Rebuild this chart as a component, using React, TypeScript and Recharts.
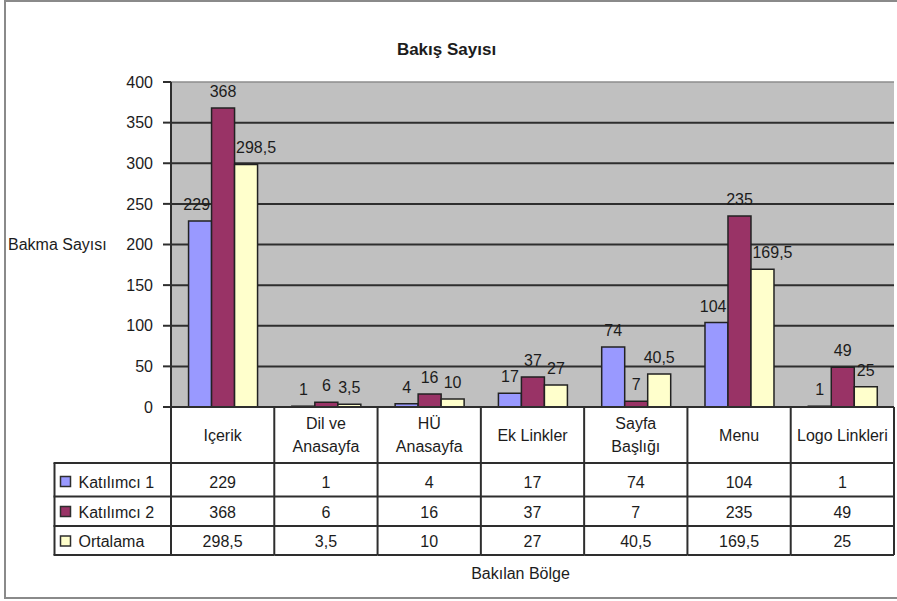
import React from 'react';
import { BarChart, Bar, XAxis, YAxis, CartesianGrid, LabelList, ReferenceLine } from 'recharts';

const categories = ['Içerik', 'Dil ve\nAnasayfa', 'HÜ\nAnasayfa', 'Ek Linkler', 'Sayfa\nBaşlığı', 'Menu', 'Logo Linkleri'];
const katilimci1 = [229, 1, 4, 17, 74, 104, 1];
const katilimci2 = [368, 6, 16, 37, 7, 235, 49];
const ortalama = [298.5, 3.5, 10, 27, 40.5, 169.5, 25];
const yTicks = [0, 50, 100, 150, 200, 250, 300, 350, 400];
const gridValues = [50, 100, 150, 200, 250, 300, 350];
const seriesNames = ['Katılımcı 1', 'Katılımcı 2', 'Ortalama'];
const seriesKeys = ['k1', 'k2', 'ort'];
const seriesColors = ['#9999ff', '#993366', '#ffffcc'];
const seriesValues = [katilimci1, katilimci2, ortalama];

const data = categories.map((c, i) => ({
  name: c,
  k1: katilimci1[i],
  k2: katilimci2[i],
  ort: ortalama[i],
}));

const FONT = '"Liberation Sans", Arial, Helvetica, sans-serif';
const TEXT = '#1c1c1c';
const LINE = '#2e2e2e';
const ROW_LINES = [56, 89.5, 119, 148];
const ROW_BASE = [80.5, 110.5, 140];
const LEGEND_W = 116.5;
const LABEL_OFFSET = 11;

const fmt = (v: number | string) => String(v).replace('.', ',');

function TableTick(props: any) {
  const { x, y, payload } = props;
  const index: number = props.index ?? payload?.index ?? 0;
  const count = props.visibleTicksCount || categories.length;
  const axisW = typeof props.width === 'number' && props.width > 100 ? props.width : 724;
  const half = axisW / count / 2;
  const left = x - half;
  const right = x + half;
  const bottom = y + ROW_LINES[3];
  const lines = String(payload.value).split('\n');
  const textProps = { fontFamily: FONT, fontSize: 16, fill: TEXT, textAnchor: 'middle' as const };
  const lgLeft = left - LEGEND_W;
  return (
    <g>
      {index === 0 && (
        <g>
          <line x1={lgLeft} x2={lgLeft} y1={y + ROW_LINES[0]} y2={bottom} stroke={LINE} strokeWidth={2} />
          <line x1={left} x2={left} y1={y} y2={bottom} stroke={LINE} strokeWidth={2} />
          {ROW_LINES.map((r, i) => (
            <line key={'lg' + i} x1={lgLeft - 1} x2={left} y1={y + r} y2={y + r} stroke={LINE} strokeWidth={2} />
          ))}
          {seriesNames.map((n, i) => (
            <g key={'ln' + i}>
              <rect
                x={lgLeft + 6}
                y={y + ROW_BASE[i] - 11}
                width={10}
                height={10}
                fill={seriesColors[i]}
                stroke={LINE}
                strokeWidth={1.5}
              />
              <text x={lgLeft + 24} y={y + ROW_BASE[i]} fontFamily={FONT} fontSize={16} fill={TEXT}>
                {n}
              </text>
            </g>
          ))}
        </g>
      )}
      <line x1={right} x2={right} y1={y} y2={bottom} stroke={LINE} strokeWidth={2} />
      {ROW_LINES.map((r, i) => (
        <line key={'r' + i} x1={left} x2={right} y1={y + r} y2={y + r} stroke={LINE} strokeWidth={2} />
      ))}
      {lines.length === 1 ? (
        <text x={x} y={y + 34} {...textProps}>
          {lines[0]}
        </text>
      ) : (
        lines.map((l, i) => (
          <text key={'h' + i} x={x} y={y + 22 + i * 23} {...textProps}>
            {l}
          </text>
        ))
      )}
      {seriesValues.map((vals, i) => (
        <text key={'v' + i} x={x} y={y + ROW_BASE[i]} {...textProps}>
          {fmt(vals[index])}
        </text>
      ))}
    </g>
  );
}

const makeLabel = (seriesIdx: number) => (props: any) => {
  const vb = props.viewBox && typeof props.viewBox.x === 'number' ? props.viewBox : props;
  const x = Number(vb.x);
  const y = Number(vb.y);
  const width = Number(vb.width);
  const height = Number(vb.height);
  const value = Number(props.value);
  const index: number = props.index ?? 0;
  const str = fmt(value);
  let dx = 0;
  const side = seriesIdx === 0 ? -1 : seriesIdx === 2 ? 1 : 0;
  if (side !== 0 && value > 0 && height > 0) {
    const zeroY = y + height;
    const ppu = height / value;
    const neighborTop = zeroY - katilimci2[index] * ppu;
    const textW = str.replace(',', '').length * 8.9 + (str.includes(',') ? 4.4 : 0);
    if (neighborTop < y - LABEL_OFFSET && textW > width) {
      dx = (side * (textW - width)) / 2 + side * 1.5;
    }
  }
  return (
    <text
      x={x + width / 2 + dx}
      y={y - LABEL_OFFSET}
      textAnchor="middle"
      fontFamily={FONT}
      fontSize={16}
      fill={TEXT}
    >
      {str}
    </text>
  );
};

export default function App() {
  return (
    <div
      style={{
        position: 'absolute',
        left: 0,
        top: 0,
        width: 897,
        height: 601,
        overflow: 'hidden',
        background: '#ffffff',
      }}
    >
      <div
        style={{
          position: 'absolute',
          left: 4,
          top: 0,
          width: 930,
          height: 595,
          border: '2px solid #8a8a8a',
          boxSizing: 'content-box',
        }}
      />
      <div
        style={{
          position: 'absolute',
          left: 0,
          top: 40,
          width: 893,
          textAlign: 'center',
          fontFamily: FONT,
          fontWeight: 'bold',
          fontSize: 17,
          lineHeight: '20px',
          color: TEXT,
        }}
      >
        Bakış Sayısı
      </div>
      <div style={{ position: 'absolute', left: 0, top: 0 }}>
        <BarChart
          width={897}
          height={601}
          data={data}
          margin={{ top: 82, right: 3, left: 0, bottom: 0 }}
          barCategoryGap="17%"
          barGap={0}
        >
          <CartesianGrid
            vertical={false}
            horizontalValues={gridValues}
            stroke={LINE}
            strokeWidth={2}
            fill="#c0c0c0"
            fillOpacity={1}
          />
          <ReferenceLine y={400} stroke="#8c8c8c" strokeWidth={1.5} />
          <XAxis
            dataKey="name"
            type="category"
            interval={0}
            height={194}
            tickSize={0}
            tickMargin={0}
            tickLine={false}
            axisLine={{ stroke: LINE, strokeWidth: 2 }}
            tick={(p: any) => <TableTick {...p} />}
            label={{
              value: 'Bakılan Bölge',
              position: 'insideBottom',
              offset: 22,
              dx: -12,
              fill: TEXT,
              fontSize: 16,
              fontFamily: FONT,
            }}
          />
          <YAxis
            type="number"
            domain={[0, 400]}
            ticks={yTicks}
            interval={0}
            width={171}
            tickSize={8}
            tickMargin={10}
            axisLine={{ stroke: LINE, strokeWidth: 2 }}
            tickLine={{ stroke: LINE, strokeWidth: 2 }}
            tick={{ fill: TEXT, fontSize: 16, fontFamily: FONT }}
            label={{
              value: 'Bakma Sayısı',
              position: 'insideLeft',
              offset: 8,
              angle: 0,
              fill: TEXT,
              fontSize: 16,
              fontFamily: FONT,
            }}
          />
          {seriesKeys.map((k, i) => (
            <Bar
              key={k}
              dataKey={k}
              name={seriesNames[i]}
              fill={seriesColors[i]}
              stroke="#222222"
              strokeWidth={1.5}
              isAnimationActive={false}
            >
              <LabelList dataKey={k} content={makeLabel(i)} />
            </Bar>
          ))}
        </BarChart>
      </div>
    </div>
  );
}
